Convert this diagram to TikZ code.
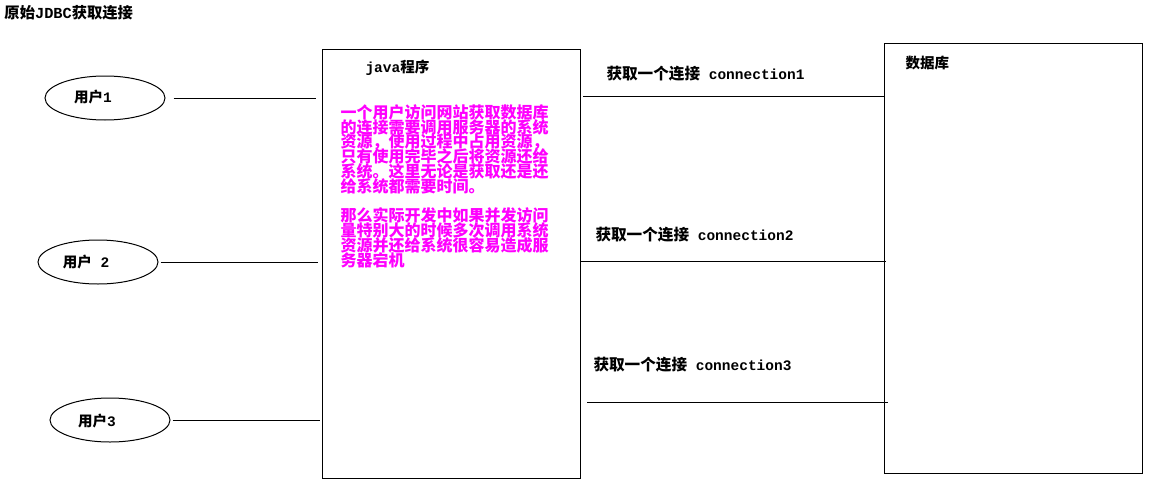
\documentclass[tikz,border=0pt]{standalone}
\usepackage{fontspec}
\setmainfont{Liberation Mono}
\newfontfamily\cjk{Noto Sans CJK SC}
\usetikzlibrary{shapes.geometric}
\newcommand\zh[1]{{\cjk #1}}
\newcommand\zhc[1]{{\cjk\fontsize{15.6}{16}\selectfont #1}}
\newcommand\tightlines{\lineskiplimit=-100pt\relax\lineskip=0pt\relax}
\definecolor{magenta}{RGB}{255,0,255}
\begin{document}
\begin{tikzpicture}[x=1pt,y=-1pt, line width=1pt,
  user/.style={draw, ellipse, minimum width=120pt, minimum height=44pt, inner sep=0pt},
  box/.style={draw, rectangle, inner sep=0pt, anchor=north west, minimum width=258pt},
  lbl/.style={inner sep=0pt, anchor=west, font=\bfseries\fontsize{14.5}{16}\selectfont},
  ulbl/.style={inner sep=0pt, font=\bfseries\fontsize{14.5}{16}\selectfont},
  note/.style={inner sep=0pt, anchor=north west, align=left, text=magenta,
    font=\cjk\bfseries\fontsize{16}{14.8}\selectfont\tightlines}
]
\useasboundingbox (0,0) rectangle (1169,495);

% title
\node[lbl, font=\bfseries\fontsize{15.3}{16}\selectfont] (title) at (4,13) {\zh{原始}JDBC\zh{获取连接}};

% users
\node[user] (u1) at (105,98) {};
\node[user] (u2) at (98,262) {};
\node[user] (u3) at (110,420) {};
\node[ulbl] (t1) at (93,97) {\zh{用户}1};
\node[ulbl] (t2) at (86,262) {\zh{用户} 2};
\node[ulbl] (t3) at (97,421) {\zh{用户}3};

% boxes
\node[box, minimum height=429pt] (java) at (322,49) {};
\node[box, minimum height=430pt] (db) at (884,43) {};
\node[lbl, font=\bfseries\fontsize{14.5}{16}\selectfont] (jt) at (365,68) {java\zh{程序}};
\node[lbl] (dt) at (905,63) {\zh{数据库}};

% note
\node[note] (nt) at (340,104) {一个用户访问网站获取数据库\\的连接需要调用服务器的系统\\资源，使用过程中占用资源，\\只有使用完毕之后将资源还给\\系统。这里无论是获取还是还\\给系统都需要时间。\\[14.8pt]那么实际开发中如果并发访问\\量特别大的时候多次调用系统\\资源并还给系统很容易造成服\\务器宕机};

% left connectors
\draw[shorten <=8pt, shorten >=6pt] (u1.east) -- (u1.east -| java.west);
\draw[shorten <=2pt, shorten >=4pt] (u2.east) -- (u2.east -| java.west);
\draw[shorten <=2pt, shorten >=2pt] (u3.east) -- (u3.east -| java.west);

% right connectors
\path (0,96) coordinate (y1) (0,261) coordinate (y2) (0,402) coordinate (y3);
\draw[shorten <=2pt] (java.east |- y1) -- (db.west |- y1);
\draw[shorten >=-2pt] (java.east |- y2) -- (db.west |- y2);
\draw[shorten <=6pt, shorten >=-4pt] (java.east |- y3) -- (db.west |- y3);

\node[lbl] (c1) at (606,74) {\zhc{获取一个连接} connection1};
\node[lbl] (c2) at (595,235) {\zhc{获取一个连接} connection2};
\node[lbl] (c3) at (593,365) {\zhc{获取一个连接} connection3};
\end{tikzpicture}
\end{document}
